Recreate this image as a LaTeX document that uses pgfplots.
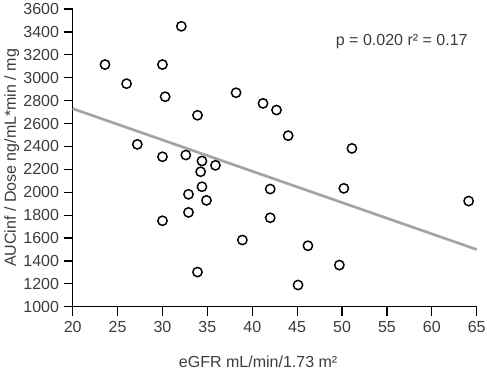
\documentclass[border=0pt]{standalone}
\usepackage{fontspec}
\setmainfont{Liberation Sans}
\usepackage{pgfplots}
\pgfplotsset{compat=1.18}
\definecolor{fitgray}{RGB}{160,166,166}
\definecolor{txtgray}{RGB}{60,60,60}
\begin{document}
\begin{tikzpicture}
\begin{axis}[
  at={(0,0)}, anchor=south west,
  scale only axis,
  width=303pt, height=223.3pt,
  xmin=20, xmax=65, ymin=1000, ymax=3600,
  xtick={20,25,...,65},
  ytick={1000,1200,...,3600},
  axis x line*=bottom, axis y line*=left,
  axis line style={-, line width=0.9pt, black},
  tick style={line width=0.9pt, black},
  tick align=outside,
  major tick length=6.75pt,
  minor tick num=0,
  /pgf/number format/assume math mode=true,
  /pgf/number format/1000 sep={},
  tick label style={font=\fontsize{12}{14}\selectfont, text=txtgray},
  xticklabel style={yshift=-1pt},
  yticklabel style={xshift=0pt},
  xlabel={eGFR mL/min/1.73 m²},
  ylabel={AUCinf / Dose ng/mL*min / mg},
  label style={font=\fontsize{12}{14}\selectfont, text=txtgray},
  xlabel style={at={(axis description cs:0.459,-0.185)}, anchor=center},
  ylabel style={at={(axis description cs:-0.151,0.5)}, anchor=center, rotate=0},
  clip=false,
]
\addplot[fitgray, line width=2pt] coordinates {(20,2730) (65,1500)};
\addplot[only marks, mark=o, mark size=3.5pt, mark options={line width=1.1pt, black, fill=white}] coordinates {
(23.6,3115) (26.0,2948) (30.0,3115) (32.1,3449) (30.3,2834)
(38.2,2869) (41.2,2776) (42.7,2718) (33.9,2672) (27.2,2418)
(30.0,2310) (32.6,2325) (34.4,2273) (35.9,2235) (44.0,2494)
(51.1,2383) (34.25,2179) (34.4,2048) (32.9,1982) (34.9,1929)
(32.9,1824) (30.0,1751) (42.0,2028) (42.0,1777) (38.9,1583)
(33.9,1303) (50.2,2034) (64.1,1923) (46.2,1533) (49.7,1364)
(45.1,1190)
};
\node[anchor=center, font=\fontsize{12}{14}\selectfont, text=txtgray] at (axis cs:56.65,3314) {p = 0.020 r² = 0.17};
\end{axis}
\pgfresetboundingbox
\path[use as bounding box] (-54.5pt,-46.7pt) rectangle (310.7pt,230.05pt);
\end{tikzpicture}
\end{document}
